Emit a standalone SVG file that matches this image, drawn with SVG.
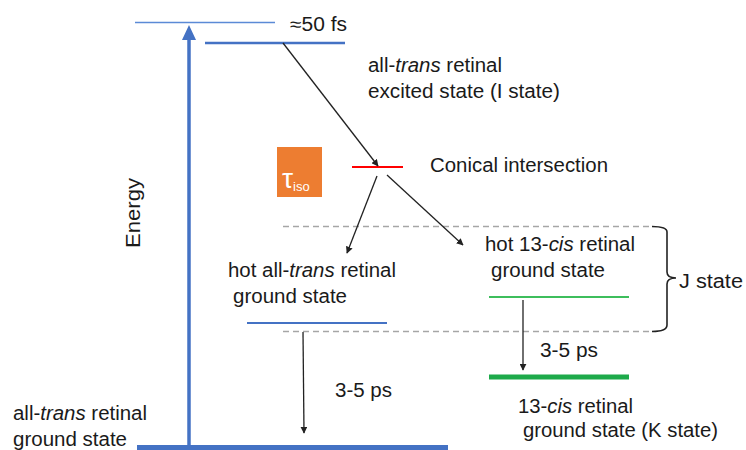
<svg xmlns="http://www.w3.org/2000/svg" width="746" height="450" viewBox="0 0 746 450">
<style>
text{font-family:"Liberation Sans",Arial,sans-serif;font-size:19.5px;fill:#1a1a1a}
.it{font-style:italic}
.blue{stroke:#4472C4;fill:none}
.dash{stroke:#A6A6A6;stroke-width:1.5;stroke-dasharray:6,4;fill:none}
.conn{stroke:#222;stroke-width:1.3;fill:none;marker-end:url(#ah)}
</style>
<defs>
<marker id="ah" viewBox="0 0 10 10" refX="9" refY="5" markerWidth="7" markerHeight="7" markerUnits="userSpaceOnUse" orient="auto">
<path d="M0,0 L10,5 L0,10 z" fill="#222"/>
</marker>
</defs>
<rect width="746" height="450" fill="#fff"/>
<g id="energy-axis">
<line x1="189" y1="450" x2="189" y2="38" stroke="#4472C4" stroke-width="3.5"/>
<path d="M182,40 L189,25 L196,40 z" fill="#4472C4"/>
<text transform="translate(140,213) rotate(-90)" text-anchor="middle" textLength="70" lengthAdjust="spacingAndGlyphs">Energy</text>
</g>
<g id="excitation-level">
<line class="blue" x1="135" y1="22.5" x2="275" y2="22.5" stroke-width="1.6" style="stroke:#5B8AD6"/>
<text x="290" y="31" textLength="57" lengthAdjust="spacingAndGlyphs">≈50 fs</text>
</g>
<g id="I-state">
<line class="blue" x1="205" y1="43" x2="345" y2="43" stroke-width="2.5"/>
<text x="368" y="72" textLength="134" lengthAdjust="spacingAndGlyphs">all-<tspan class="it">trans</tspan> retinal</text>
<text x="368" y="98" textLength="192" lengthAdjust="spacingAndGlyphs">excited state (I state)</text>
</g>
<g id="conical-intersection">
<line x1="352" y1="167" x2="403" y2="167" stroke="#FF0000" stroke-width="2"/>
<text x="430" y="172" textLength="178" lengthAdjust="spacingAndGlyphs">Conical intersection</text>
</g>
<g id="tau-iso">
<rect x="277" y="147" width="45" height="50" fill="#ED7D31"/>
<text x="282" y="188" style="fill:#fff;font-size:28px">τ<tspan dy="3" style="font-size:13px;fill:#fff">iso</tspan></text>
</g>
<g id="hot-all-trans">
<text x="228" y="277" textLength="168" lengthAdjust="spacingAndGlyphs">hot all-<tspan class="it">trans</tspan> retinal</text>
<text x="233" y="303" textLength="114" lengthAdjust="spacingAndGlyphs">ground state</text>
<line class="blue" x1="247" y1="323" x2="387" y2="323" stroke-width="2"/>
</g>
<g id="hot-13-cis">
<text x="485" y="251" textLength="150" lengthAdjust="spacingAndGlyphs">hot 13-<tspan class="it">cis</tspan> retinal</text>
<text x="491" y="277" textLength="114" lengthAdjust="spacingAndGlyphs">ground state</text>
<line x1="489" y1="297" x2="629" y2="297" stroke="#3DBE5C" stroke-width="2"/>
</g>
<g id="J-state">
<line class="dash" x1="283" y1="226.5" x2="650" y2="226.5"/>
<line class="dash" x1="283" y1="331.5" x2="650" y2="331.5"/>
<path d="M652,226.5 Q667,226.5 667,232 L667,272 Q667,278 676,278 Q667,278 667,284 L667,325 Q667,331.5 652,331.5" fill="none" stroke="#222" stroke-width="1.6"/>
<text x="679" y="288" textLength="64" lengthAdjust="spacingAndGlyphs">J state</text>
</g>
<g id="K-state">
<line x1="489" y1="377" x2="629" y2="377" stroke="#1DAA4A" stroke-width="5"/>
<text x="540" y="357" textLength="58" lengthAdjust="spacingAndGlyphs">3-5 ps</text>
<text x="518" y="413" textLength="115" lengthAdjust="spacingAndGlyphs">13-<tspan class="it">cis</tspan> retinal</text>
<text x="523" y="437" textLength="195" lengthAdjust="spacingAndGlyphs">ground state (K state)</text>
</g>
<g id="ground-state">
<line x1="137" y1="447.5" x2="448" y2="447.5" stroke="#4472C4" stroke-width="5"/>
<text x="335" y="397" textLength="57" lengthAdjust="spacingAndGlyphs">3-5 ps</text>
<text x="13" y="420" textLength="134" lengthAdjust="spacingAndGlyphs">all-<tspan class="it">trans</tspan> retinal</text>
<text x="13" y="446" textLength="114" lengthAdjust="spacingAndGlyphs">ground state</text>
</g>
<g id="connectors">
<line class="conn" x1="283" y1="43" x2="378" y2="166"/>
<line class="conn" x1="377" y1="176" x2="347" y2="253"/>
<line class="conn" x1="387" y1="175" x2="463" y2="245"/>
<line class="conn" x1="303" y1="332" x2="304" y2="433"/>
<line class="conn" x1="523" y1="300" x2="523" y2="370"/>
</g>
</svg>
